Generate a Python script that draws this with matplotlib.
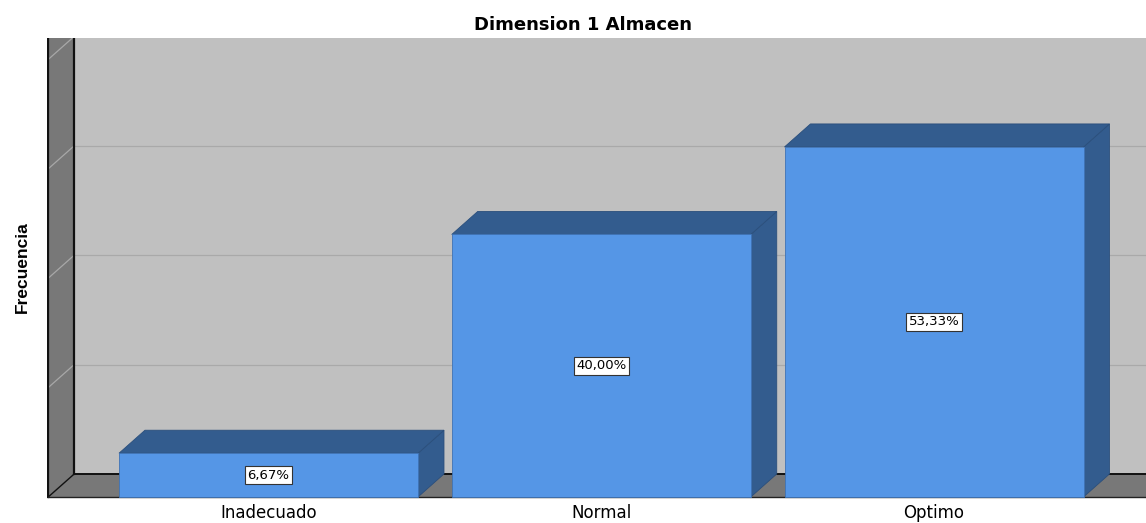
import matplotlib.pyplot as plt
from matplotlib.patches import Polygon

categories = ['Inadecuado', 'Normal', 'Optimo']
counts = [1, 6, 8]
grid_steps = [2.5, 5, 7.5, 10]

total = sum(counts)
pct_labels = [f"{c / total * 100:.2f}%".replace('.', ',') for c in counts]

# colours taken from the SPSS style
wall_col = '#c0c0c0'
side_col = '#787878'
front_col = '#5596e6'
dark_col = '#335c8e'

fig = plt.figure(figsize=(11.46, 5.23), dpi=100)
ax = fig.add_axes([47 / 1146, 24 / 523, 1099 / 1146, 461 / 523])
ax.set_xlim(-0.6657, 2.637)
ax.set_ylim(-0.046, 10.49)
for s in ax.spines.values():
    s.set_visible(False)
ax.set_yticks([])

# 3d depth offset in data units
dx, dy = 0.078, 0.526
xl = -0.662
xr = 3.0
ytop = 12

# back wall
ax.add_patch(Polygon([(xl + dx, dy), (xr, dy), (xr, ytop), (xl + dx, ytop)],
                     closed=True, fc=wall_col, ec='none', zorder=1))
# floor
ax.add_patch(Polygon([(xl, 0), (xr, 0), (xr, dy), (xl + dx, dy)],
                     closed=True, fc=side_col, ec='none', zorder=1))
# left wall
ax.add_patch(Polygon([(xl, 0), (xl + dx, dy), (xl + dx, ytop), (xl, ytop)],
                     closed=True, fc=side_col, ec='none', zorder=1))

for g in grid_steps:
    ax.plot([xl + dx, xr], [g + dy, g + dy], color='#a9a9a9', lw=0.9, zorder=2)
    ax.plot([xl, xl + dx], [g, g + dy], color='#a8a8a8', lw=0.9, zorder=2)

# edges of walls
ax.plot([xl, xl], [0, ytop], color='#111111', lw=1.6, zorder=3)
ax.plot([xl + dx, xl + dx], [dy, ytop], color='#111111', lw=1.6, zorder=3)
ax.plot([xl + dx, xr], [dy, dy], color='#111111', lw=1.4, zorder=3)
ax.plot([xl, xl + dx], [0, dy], color='#111111', lw=1.0, zorder=3)
ax.plot([xl, xr], [0, 0], color='#222222', lw=1.0, zorder=3)

# bars
w = 0.8986
for i, (c, lab) in enumerate(zip(counts, pct_labels)):
    x0, x1 = i - w / 2, i + w / 2
    z = 5 + i
    side = [(x1, 0), (x1 + dx, dy), (x1 + dx, c + dy), (x1, c)]
    top = [(x0, c), (x0 + dx, c + dy), (x1 + dx, c + dy), (x1, c)]
    front = [(x0, 0), (x1, 0), (x1, c), (x0, c)]
    ax.add_patch(Polygon(side, closed=True, fc=dark_col, ec='#2b4f7c', lw=0.6, zorder=z))
    ax.add_patch(Polygon(top, closed=True, fc=dark_col, ec='#2b4f7c', lw=0.6, zorder=z))
    ax.add_patch(Polygon(front, closed=True, fc=front_col, ec='#3f73b5', lw=0.6, zorder=z))
    ax.text(i, c / 2, lab, ha='center', va='center', fontsize=9.5,
            family='DejaVu Sans', zorder=z + 0.5,
            bbox=dict(boxstyle='square,pad=0.18', fc='white', ec='#333333', lw=0.8))

ax.set_xticks(range(len(categories)))
ax.set_xticklabels(categories, fontsize=12, family='DejaVu Sans')
ax.tick_params(axis='x', length=0, pad=3.5)

fig.text(583 / 1146, 1 - 24.5 / 523, 'Dimension 1 Almacen', ha='center', va='center',
         fontsize=13, fontweight='bold', family='DejaVu Sans')
fig.text(22 / 1146, 1 - 267 / 523, 'Frecuencia', rotation=90, ha='center', va='center',
         fontsize=12.5, fontweight='bold',
         family=['Liberation Sans Narrow', 'Liberation Sans', 'DejaVu Sans'])

fig.savefig('out.png', dpi=100)
